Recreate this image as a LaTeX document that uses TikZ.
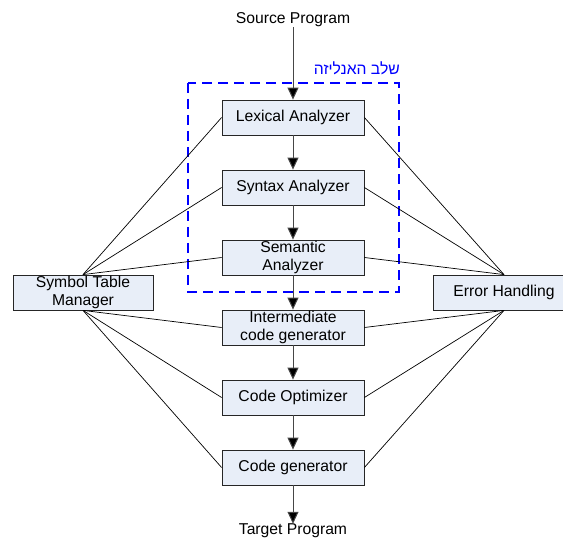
\documentclass[tikz,border=0pt]{standalone}
\usepackage{fontspec}
\setmainfont{Liberation Sans}
\newfontfamily\hebfont[Script=Hebrew]{Liberation Sans}
\TeXXeTstate=1
\usetikzlibrary{arrows.meta}
\definecolor{boxfill}{RGB}{232,238,248}
\definecolor{flowgray}{RGB}{70,70,70}
\tikzset{
  phase/.style={draw=black!85, fill=boxfill, line width=0.8pt,
    minimum width=142pt, minimum height=35pt, inner sep=0pt,
    align=center, font=\fontsize{15.7}{18}\selectfont},
  plain/.style={inner sep=0pt, font=\fontsize{15.7}{18}\selectfont},
  flow/.style={draw=flowgray, line width=1pt,
    -{Triangle[width=11pt,length=12pt,fill=black]}},
  link/.style={draw=black, line width=0.7pt},
  region/.style={draw=blue, line width=1.3pt, dash pattern=on 10pt off 6pt}
}
\begin{document}
\begin{tikzpicture}[x=1pt,y=-1pt]
\useasboundingbox (0,0) rectangle (563,540);

% analysis stage frame
\draw[region] (188,83) rectangle (399,292);
\node[plain, text=blue, anchor=east] (stage) at (400,68)
  {\hebfont\beginR שלב האנליזה\endR};

% compiler phases
\node[plain] (src) at (293,20) {Source Program};
\node[phase] (lex) at (293,117.5) {Lexical Analyzer};
\node[phase] (syn) at (293,187.5) {Syntax Analyzer};
\node[phase] (sem) at (293,257.5) {Semantic\\Analyzer};
\node[phase] (icg) at (293,327.5) {Intermediate\\code generator};
\node[phase] (opt) at (293,397.5) {Code Optimizer};
\node[phase] (gen) at (293,467.5) {Code generator};
\node[plain] (tgt) at (293,531) {Target Program};

% side services
\node[phase, minimum width=140pt] (stm) at (83,292.5) {Symbol Table\\Manager};
\node[phase] (err) at (504,292.5) {Error Handling};

% main flow
\draw[flow] (src) -- (lex);
\draw[flow] (lex) -- (syn);
\draw[flow] (syn) -- (sem);
\draw[flow] (sem) -- (icg);
\draw[flow] (icg) -- (opt);
\draw[flow] (opt) -- (gen);
\draw[flow] (gen) -- (tgt);

% links to the symbol table
\foreach \p in {lex,syn,sem} \draw[link] (\p.west) -- (stm.north);
\foreach \p in {icg,opt,gen} \draw[link] (\p.west) -- (stm.south);

% links to error handling
\foreach \p in {lex,syn,sem} \draw[link] (\p.east) -- (err.north);
\foreach \p in {icg,opt,gen} \draw[link] (\p.east) -- (err.south);
\end{tikzpicture}
\end{document}
